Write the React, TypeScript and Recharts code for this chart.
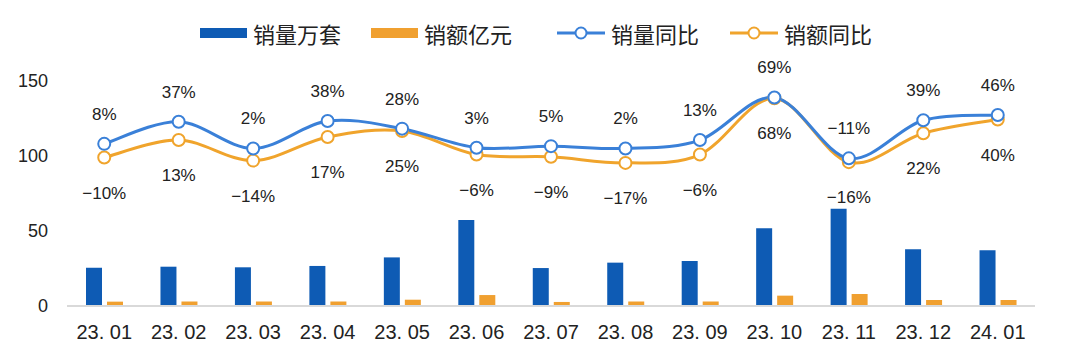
import React from 'react';
import { ComposedChart, Bar, Line, XAxis, YAxis, LabelList } from 'recharts';

const categories = ['23.01', '23.02', '23.03', '23.04', '23.05', '23.06', '23.07', '23.08', '23.09', '23.10', '23.11', '23.12', '24.01'];
const salesVolume = [25.5, 26.2, 25.8, 26.7, 32.4, 57.3, 25.3, 28.9, 30.0, 51.8, 64.9, 37.8, 37.1];
const salesAmount = [2.9, 3.0, 3.0, 3.0, 4.2, 7.3, 2.7, 3.0, 3.0, 6.9, 8.0, 4.0, 4.0];
const volumeYoY = [8, 37, 2, 38, 28, 3, 5, 2, 13, 69, -11, 39, 46];
const amountYoY = [-10, 13, -14, 17, 25, -6, -9, -17, -6, 68, -16, 22, 40];
const yTicks = [0, 50, 100, 150];

const seriesNames = { volume: '销量万套', amount: '销额亿元', volumeYoY: '销量同比', amountYoY: '销额同比' };
const colors = { volume: '#0E5BB4', amount: '#F0A030', volumeYoY: '#3A80D8', amountYoY: '#F0A42C' };

const data = categories.map((c, i) => ({
  month: c,
  volume: salesVolume[i],
  amount: salesAmount[i],
  volumeYoY: volumeYoY[i],
  amountYoY: amountYoY[i],
}));

// Excel-like smoothed line (cardinal spline, tension 0)
const smoothCurve: any = (context: any) => {
  let pts: number[][] = [];
  return {
    areaStart() {},
    areaEnd() {},
    lineStart() { pts = []; },
    point(x: number, y: number) { pts.push([+x, +y]); },
    lineEnd() {
      if (!pts.length) return;
      context.moveTo(pts[0][0], pts[0][1]);
      for (let i = 0; i < pts.length - 1; i++) {
        const p0 = pts[i - 1] || pts[i];
        const p1 = pts[i];
        const p2 = pts[i + 1];
        const p3 = pts[i + 2] || pts[i + 1];
        const c1x = p1[0] + (p2[0] - p0[0]) / 6;
        const c1y = p1[1] + (p2[1] - p0[1]) / 6;
        const c2x = p2[0] - (p3[0] - p1[0]) / 6;
        const c2y = p2[1] - (p3[1] - p1[1]) / 6;
        context.bezierCurveTo(c1x, c1y, c2x, c2y, p2[0], p2[1]);
      }
    },
  };
};

const FONT = '"Liberation Sans", Arial, sans-serif';
const CJK = '"Noto Sans CJK SC", sans-serif';

const fmtTick = (v: string) => v.replace('.', '. ');
const pct = (v: any) => `${Number(v) < 0 ? '\u2212' + Math.abs(Number(v)) : v}%`;

const LegendBar = ({ color, label, left }: any) => (
  <div style={{ position: 'absolute', left, top: 20, display: 'flex', alignItems: 'center' }}>
    <div style={{ width: 47, height: 10, background: color }} />
    <span style={{ marginLeft: 6, fontFamily: CJK, fontSize: 22, color: '#222', lineHeight: '26px' }}>{label}</span>
  </div>
);

const LegendLine = ({ color, label, left }: any) => (
  <div style={{ position: 'absolute', left, top: 20, display: 'flex', alignItems: 'center' }}>
    <svg width={48} height={16}>
      <line x1={0} y1={8} x2={48} y2={8} stroke={color} strokeWidth={3} />
      <circle cx={24} cy={8} r={5.5} fill="#fff" stroke={color} strokeWidth={2} />
    </svg>
    <span style={{ marginLeft: 6, fontFamily: CJK, fontSize: 22, color: '#222', lineHeight: '26px' }}>{label}</span>
  </div>
);

export default function App() {
  return (
    <div style={{ position: 'absolute', left: 0, top: 0, width: 1080, height: 359, background: '#fff' }}>
      <LegendBar color={colors.volume} label={seriesNames.volume} left={200} />
      <LegendBar color={colors.amount} label={seriesNames.amount} left={371} />
      <LegendLine color={colors.volumeYoY} label={seriesNames.volumeYoY} left={557} />
      <LegendLine color={colors.amountYoY} label={seriesNames.amountYoY} left={730} />
      <ComposedChart
        width={1080}
        height={359}
        data={data}
        margin={{ top: 81, right: 45, bottom: 13, left: 0 }}
        barSize={16}
        barGap={5}
      >
        <XAxis
          dataKey="month"
          tickFormatter={fmtTick}
          axisLine={{ stroke: '#D9D9D9', strokeWidth: 2 }}
          tickLine={false}
          tick={{ fill: '#222', fontSize: 20, fontFamily: FONT }}
          tickMargin={13}
          height={40}
          interval={0}
        />
        <YAxis
          yAxisId="left"
          domain={[0, 150]}
          ticks={yTicks}
          axisLine={false}
          tickLine={false}
          tick={{ fill: '#222', fontSize: 18, fontFamily: FONT }}
          width={67}
          tickMargin={13}
        />
        <YAxis yAxisId="right" orientation="right" hide domain={[-205, 90.6]} />
        <Bar yAxisId="left" dataKey="volume" name={seriesNames.volume} fill={colors.volume} isAnimationActive={false} />
        <Bar yAxisId="left" dataKey="amount" name={seriesNames.amount} fill={colors.amount} isAnimationActive={false} />
        <Line
          yAxisId="right"
          dataKey="amountYoY"
          name={seriesNames.amountYoY}
          type={smoothCurve}
          stroke={colors.amountYoY}
          strokeWidth={3}
          dot={{ r: 6, fill: '#fff', stroke: colors.amountYoY, strokeWidth: 2 }}
          isAnimationActive={false}
        >
          <LabelList dataKey="amountYoY" position="bottom" offset={29} formatter={pct} fill="#222" fontSize={17} fontFamily={FONT} />
        </Line>
        <Line
          yAxisId="right"
          dataKey="volumeYoY"
          name={seriesNames.volumeYoY}
          type={smoothCurve}
          stroke={colors.volumeYoY}
          strokeWidth={3}
          dot={{ r: 6, fill: '#fff', stroke: colors.volumeYoY, strokeWidth: 2 }}
          isAnimationActive={false}
        >
          <LabelList dataKey="volumeYoY" position="top" offset={24} formatter={pct} fill="#222" fontSize={17} fontFamily={FONT} />
        </Line>
      </ComposedChart>
    </div>
  );
}
